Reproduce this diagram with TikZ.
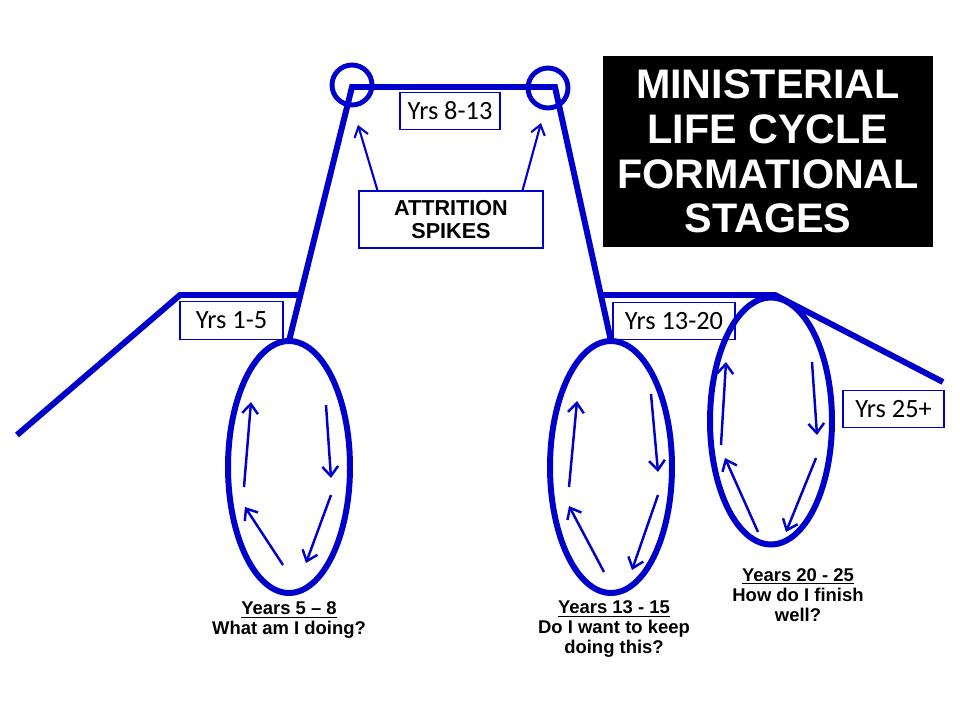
\documentclass[tikz,border=0pt]{standalone}
\usepackage{fontspec}
\setmainfont{Liberation Sans}
\newfontfamily\yrsfont{Carlito}
\usetikzlibrary{shapes.geometric,arrows.meta,scopes}
\definecolor{lineblue}{RGB}{0,0,204}

\begin{document}
\begin{tikzpicture}[x=0.02cm,y=-0.02cm,
      stage/.style={draw=lineblue,line width=3.4pt},
      ring/.style={circle,draw=lineblue,line width=2.8pt,minimum size=0.8cm,outer sep=0pt},
      loopel/.style={ellipse,draw=lineblue,line width=3.4pt,minimum width=2.44cm,minimum height=5.04cm,outer sep=0pt},
      turn/.style={draw=lineblue,line width=1.4pt,-{Straight Barb[length=5.5pt,width=9pt]}},
      spike/.style={draw=lineblue,line width=1.2pt,-{Straight Barb[length=5.5pt,width=8pt]}},
      yrs/.style={draw=lineblue,line width=0.6pt,font=\yrsfont\fontsize{15}{17}\selectfont,minimum height=0.75cm},
      lbl/.style={align=center,font=\bfseries\fontsize{10.5}{11.5}\selectfont}
]
      \useasboundingbox (0,0) rectangle (960,720);
      % title
      \node[fill=black,text=white,minimum width=6.6cm,minimum height=3.82cm,align=center,
            font=\bfseries\fontsize{23.5}{25.5}\selectfont] (title) at (768,151.5)
            {MINISTERIAL\\LIFE CYCLE\\FORMATIONAL\\STAGES};
      % the three cycles
      \node[loopel] (e1) at (289,467) {};
      \node[loopel] (e2) at (611,467) {};
      \node[loopel,minimum height=4.94cm] (e3) at (771,421) {};
      % life line
      \coordinate (l0) at (17,435);
      \coordinate (l1) at (180,295);
      \coordinate (l2) at (300,295);
      \coordinate (t1) at (352,87);
      \coordinate (t2) at (555,87);
      \coordinate (r1) at (601,295);
      \coordinate (r2) at (775,295);
      \coordinate (r3) at (943,382);
      {[stage]
          \draw (l0) -- (l1) -- (l2);
          \draw (e1.north) -- (t1) -- (t2) -- (e2.north);
          \draw (r1) -- (r2) -- (r3);
      }
      \node[ring] (c1) at (352,85) {};
      \node[ring] (c2) at (548,88) {};
      % year boxes
      \node[yrs,minimum width=2.06cm] (y1) at (231.5,320.5) {Yrs 1-5};
      \node[yrs,minimum width=2cm] (y8) at (450,111) {Yrs 8-13};
      \node[yrs,minimum width=2.44cm] (y13) at (674,321) {Yrs 13-20};
      \node[yrs,minimum width=2.02cm] (y25) at (893.5,409) {Yrs 25+};
      \node[draw=lineblue,line width=0.6pt,minimum width=3.68cm,minimum height=1.14cm,align=center,
            font=\bfseries\fontsize{12.3}{13}\selectfont] (att) at (451,219.5) {ATTRITION\\SPIKES};
      \coordinate (s1) at (358,125);
      \coordinate (s2) at (541,123);
      {[spike]
          \draw ([xshift=0.38cm]att.north west) -- (s1);
          \draw ([xshift=-0.42cm]att.north east) -- (s2);
      }
      % arrows inside the cycles
      {[turn]
          \draw ([shift={(-45,20)}]e1.center) -- ([shift={(-38,-65)}]e1.center);
          \draw ([shift={(37,-62)}]e1.center) -- ([shift={(42,11)}]e1.center);
          \draw ([shift={(42,28)}]e1.center) -- ([shift={(17,96)}]e1.center);
          \draw ([shift={(-6,98)}]e1.center) -- ([shift={(-44,40)}]e1.center);
          \draw ([shift={(-42,20)}]e2.center) -- ([shift={(-34,-66)}]e2.center);
          \draw ([shift={(40,-73)}]e2.center) -- ([shift={(47,5)}]e2.center);
          \draw ([shift={(47,28)}]e2.center) -- ([shift={(21,103)}]e2.center);
          \draw ([shift={(-7,105)}]e2.center) -- ([shift={(-42,39)}]e2.center);
          \draw ([shift={(-50,24)}]e3.center) -- ([shift={(-45,-59)}]e3.center);
          \draw ([shift={(41,-59)}]e3.center) -- ([shift={(46,14)}]e3.center);
          \draw ([shift={(45,37)}]e3.center) -- ([shift={(15,111)}]e3.center);
          \draw ([shift={(-13,111)}]e3.center) -- ([shift={(-46,37)}]e3.center);
      }
      % stage questions
      \node[lbl] (q1) at (289,620) {\underline{Years 5 – 8}\\What am I doing?};
      \node[lbl] (q2) at (614,629) {\underline{Years 13 - 15}\\Do I want to keep\\doing this?};
      \node[lbl] (q3) at (798,595) {\underline{Years 20 - 25}\\How do I finish\\well?};
\end{tikzpicture}
\end{document}
